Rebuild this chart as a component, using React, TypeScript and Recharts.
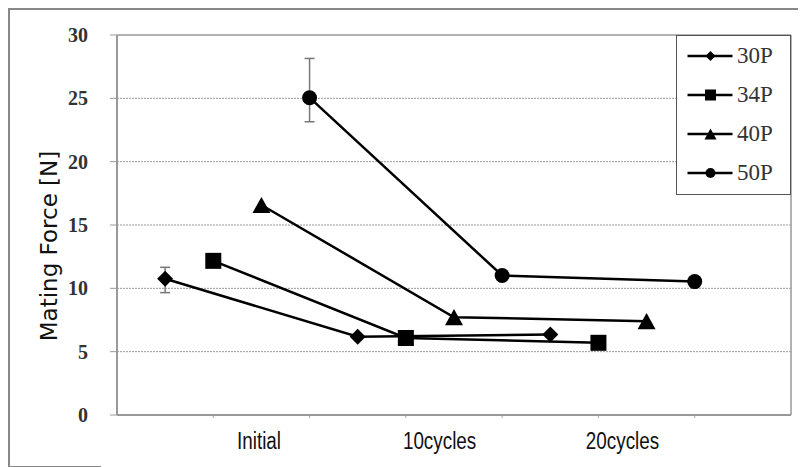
import React from 'react';
import {
  LineChart,
  Line,
  XAxis,
  YAxis,
  CartesianGrid,
  ReferenceLine,
  ErrorBar,
  Legend,
  Label,
} from 'recharts';

// ---------- data ----------
const categories = ['Initial', '10cycles', '20cycles'];
const seriesNames = ['30P', '34P', '40P', '50P'];
const values30P = [10.76, 6.18, 6.36];
const values34P = [12.17, 6.08, 5.7];
const values40P = [16.58, 7.72, 7.41];
const values50P = [25.05, 11.01, 10.53];
// [minus, plus] error amounts, null = no error bar
const errors30P: (number[] | null)[] = [[1.1, 0.9], null, null];
const errors50P: (number[] | null)[] = [[1.9, 3.1], null, null];
const yTicks = [0, 5, 10, 15, 20, 25, 30];
const yLabel = 'Mating Force [N]';

// ---------- layout ----------
const SLOTS_PER_GROUP = 4;
const X_DOMAIN: [number, number] = [0, 14];
const TICK_MARKS = [2, 4, 6, 8, 10, 12];
const LABEL_POS = [2.95, 6.7, 10.5];
const SHAPES = ['diamond', 'square', 'triangle', 'circle'];
const SERIF = "'Liberation Serif', 'Times New Roman', serif";

type Pt = { x: number; y: number; err: number[] | null };
const buildSeries = (vals: number[], errs: (number[] | null)[] | null, j: number): Pt[] =>
  vals.map((v, i) => ({ x: 1 + SLOTS_PER_GROUP * i + j, y: v, err: errs ? errs[i] : null }));

const series = [
  { name: seriesNames[0], data: buildSeries(values30P, errors30P, 0), hasErr: true },
  { name: seriesNames[1], data: buildSeries(values34P, null, 1), hasErr: false },
  { name: seriesNames[2], data: buildSeries(values40P, null, 2), hasErr: false },
  { name: seriesNames[3], data: buildSeries(values50P, errors50P, 3), hasErr: true },
];

function Marker({ shape, cx, cy, s }: { shape: string; cx: number; cy: number; s: number }) {
  switch (shape) {
    case 'diamond':
      return <polygon points={`${cx},${cy - s} ${cx + s},${cy} ${cx},${cy + s} ${cx - s},${cy}`} fill="#000" />;
    case 'square':
      return <rect x={cx - s} y={cy - s} width={2 * s} height={2 * s} fill="#000" />;
    case 'triangle':
      return (
        <polygon
          points={`${cx},${cy - s * 0.9} ${cx + s},${cy + s * 0.9} ${cx - s},${cy + s * 0.9}`}
          fill="#000"
        />
      );
    default:
      return <circle cx={cx} cy={cy} r={s} fill="#000" />;
  }
}

const dotSize: Record<string, number> = { diamond: 8, square: 8, triangle: 9, circle: 7.5 };
const legendSize: Record<string, number> = { diamond: 5, square: 5.5, triangle: 6, circle: 5 };

const makeDot = (shape: string) => (props: any) => {
  const { cx, cy, index } = props;
  if (cx == null || cy == null) return <g key={`d-${shape}-${index}`} />;
  return (
    <g key={`d-${shape}-${index}`}>
      <Marker shape={shape} cx={cx} cy={cy} s={dotSize[shape]} />
    </g>
  );
};

const XTick = (props: any) => {
  const { x, y, payload } = props;
  const idx = LABEL_POS.indexOf(payload.value);
  if (idx >= 0) {
    return (
      <text
        transform={`translate(${x},${y + 34}) scale(0.82,1)`}
        textAnchor="middle"
        fontFamily="'Liberation Sans', Arial, sans-serif"
        fontSize={23}
        fill="#111"
      >
        {categories[idx]}
      </text>
    );
  }
  return <line x1={x} x2={x} y1={y + 1} y2={y + 3} stroke="#aaa" strokeWidth={1} />;
};

const LegendContent = () => (
  <div
    style={{
      width: 115,
      height: 160,
      border: '1.5px solid #555',
      background: '#fff',
      boxSizing: 'border-box',
    }}
  >
    {seriesNames.map((n, j) => (
      <div key={n} style={{ height: 39, display: 'flex', alignItems: 'center' }}>
        <svg width={60} height={20} style={{ display: 'block' }}>
          <line x1={10.5} x2={55.5} y1={10} y2={10} stroke="#000" strokeWidth={2.5} />
          <Marker shape={SHAPES[j]} cx={33.5} cy={10} s={legendSize[SHAPES[j]]} />
        </svg>
        <span style={{ fontFamily: SERIF, fontSize: 23, color: '#333', lineHeight: 1 }}>{n}</span>
      </div>
    ))}
  </div>
);

export default function App() {
  return (
    <div style={{ position: 'relative', width: 798, height: 459 }}>
      <div style={{ position: 'absolute', left: 0, top: 0, width: 798, height: 1.5, background: '#888' }} />
      <div style={{ position: 'absolute', left: 0, top: 0, width: 1.5, height: 459, background: '#888' }} />
      <div style={{ position: 'absolute', left: 0, top: 457.5, width: 93, height: 1.5, background: '#888' }} />
      <LineChart
        width={798}
        height={459}
        margin={{ top: 27, right: 15, bottom: 0, left: 0 }}
        style={{ position: 'absolute', left: 0, top: 0 }}
      >
        <CartesianGrid
          vertical={false}
          horizontalValues={[5, 10, 15, 20, 25]}
          stroke="#999"
          strokeDasharray="2 1"
        />
        <XAxis
          dataKey="x"
          type="number"
          domain={X_DOMAIN}
          ticks={[...TICK_MARKS, ...LABEL_POS]}
          interval={0}
          allowDataOverflow
          height={52}
          tickLine={false}
          tickSize={0}
          tickMargin={0}
          axisLine={{ stroke: '#999', strokeWidth: 2 }}
          tick={<XTick />}
        />
        <YAxis
          type="number"
          domain={[0, 30]}
          ticks={yTicks}
          interval={0}
          width={109}
          tickSize={7}
          tickMargin={22}
          axisLine={{ stroke: '#999', strokeWidth: 2 }}
          tickLine={{ stroke: '#999', strokeWidth: 1 }}
          tick={{ fontFamily: SERIF, fontSize: 20, fill: '#333', fontWeight: 'bold' }}
        >
          <Label
            content={(p: any) => {
              const vb = p.viewBox || { x: 0, y: 27, width: 109, height: 380 };
              const cx = vb.x + 49;
              const cy = vb.y + vb.height / 2 + 21;
              return (
                <text
                  x={cx}
                  y={cy}
                  transform={`rotate(-90 ${cx} ${cy})`}
                  textAnchor="middle"
                  fontFamily="'DejaVu Sans', Verdana, sans-serif"
                  fontSize={23}
                  fill="#111"
                >
                  {yLabel}
                </text>
              );
            }}
          />
        </YAxis>
        <ReferenceLine y={30} stroke="#999" strokeWidth={1.5} />
        <ReferenceLine x={14} stroke="#999" strokeWidth={1.5} />
        {series.map((s, j) => (
          <Line
            key={s.name}
            name={s.name}
            data={s.data}
            dataKey="y"
            stroke="#000"
            strokeWidth={2.5}
            dot={makeDot(SHAPES[j])}
            activeDot={false}
            isAnimationActive={false}
          >
            {s.hasErr && (
              <ErrorBar dataKey="err" direction="y" width={5} stroke="#777" strokeWidth={1.5} />
            )}
          </Line>
        ))}
        <Legend
          layout="vertical"
          align="center"
          verticalAlign="middle"
          wrapperStyle={{ left: 668, top: 27, width: 115, height: 160 }}
          content={<LegendContent />}
        />
      </LineChart>
    </div>
  );
}
